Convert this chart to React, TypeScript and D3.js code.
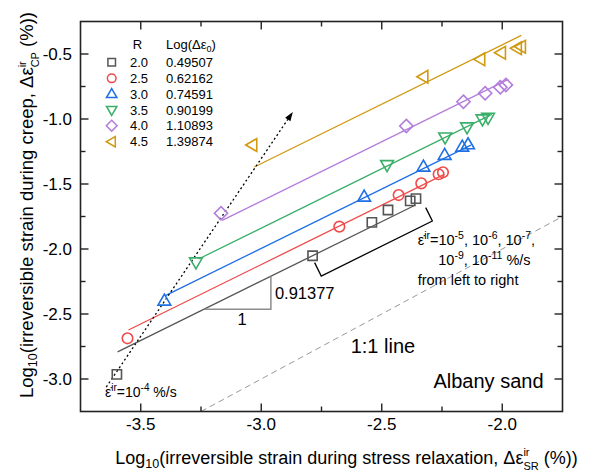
import React from "react";
import * as d3 from "d3";

// ---------- data ----------
const seriesR = ["2.0", "2.5", "3.0", "3.5", "4.0", "4.5"];
const logDe0 = ["0.49507", "0.62162", "0.74591", "0.90199", "1.10893", "1.39874"];
const intercepts = [0.49507, 0.62162, 0.74591, 0.90199, 1.10893, 1.39874];
const fitSlope = 0.91377;
const colors = ["#555555", "#f04a4a", "#1f6fe6", "#3aaf6a", "#b27ddc", "#d09a10"];
const markerTypes = ["square", "circle", "triUp", "triDown", "diamond", "triLeft"];

const xsR20 = [-3.599, -2.787, -2.541, -2.474, -2.382, -2.358];
const ysR20 = [-2.964, -2.052, -1.795, -1.700, -1.630, -1.613];
const xsR25 = [-3.555, -2.676, -2.430, -2.336, -2.264, -2.246];
const ysR25 = [-2.687, -1.828, -1.585, -1.495, -1.425, -1.410];
const xsR30 = [-3.402, -2.573, -2.327, -2.239, -2.166, -2.142];
const ysR30 = [-2.398, -1.598, -1.367, -1.277, -1.213, -1.195];
const xsR35 = [-3.271, -2.478, -2.237, -2.146, -2.082, -2.059];
const ysR35 = [-2.102, -1.354, -1.141, -1.064, -1.002, -0.990];
const xsR40 = [-3.167, -2.398, -2.161, -2.071, -2.008, -1.985];
const ysR40 = [-1.725, -1.054, -0.867, -0.802, -0.756, -0.738];
const xsR45 = [-3.037, -2.327, -2.091, -2.005, -1.939, -1.922];
const ysR45 = [-1.200, -0.675, -0.541, -0.490, -0.456, -0.444];
const seriesX = [xsR20, xsR25, xsR30, xsR35, xsR40, xsR45];
const seriesY = [ysR20, ysR25, ysR30, ysR35, ysR40, ysR45];

const lineStart = [-3.596, -3.551, -3.398, -3.26, -3.162, -3.029];
const lineEnd = [-2.36, -2.241, -2.13, -2.043, -1.975, -1.921];

const xMajor = [-3.5, -3.0, -2.5, -2.0];
const xMinor = [-3.25, -2.75, -2.25];
const yMajor = [-0.5, -1.0, -1.5, -2.0, -2.5, -3.0];
const yMinor = [-0.75, -1.25, -1.75, -2.25, -2.75];

// annotation anchors (data units)
const arrowFrom = [-3.643, -3.062];
const arrowTo = [-2.869, -0.946];
const bracketA = [-2.29, -1.785];
const bracketB = [-2.751, -2.208];
const triX = [-3.238, -2.96];
const oneToOne = [-3.25, -1.75];

const W = 589, H = 473;
const x = d3.scaleLinear().domain([-3.75, -1.75]).range([80.5, 562.5]);
const y = d3.scaleLinear().domain([-3.25, -0.25]).range([411.5, 21.5]);

const FONT = "Liberation Sans, Arial, Helvetica, sans-serif";

function markerPath(type: string, s: number): string {
  const p = d3.path();
  if (type === "square") {
    p.rect(-s * 0.42, -s * 0.42, s * 0.84, s * 0.84);
  } else if (type === "circle") {
    p.arc(0, 0, s * 0.48, 0, Math.PI * 2);
  } else if (type === "triUp") {
    p.moveTo(0, -s * 0.6); p.lineTo(s * 0.58, s * 0.4); p.lineTo(-s * 0.58, s * 0.4); p.closePath();
  } else if (type === "triDown") {
    p.moveTo(0, s * 0.6); p.lineTo(s * 0.58, -s * 0.4); p.lineTo(-s * 0.58, -s * 0.4); p.closePath();
  } else if (type === "diamond") {
    p.moveTo(0, -s * 0.6); p.lineTo(s * 0.6, 0); p.lineTo(0, s * 0.6); p.lineTo(-s * 0.6, 0); p.closePath();
  } else {
    p.moveTo(-s * 0.6, 0); p.lineTo(s * 0.4, -s * 0.58); p.lineTo(s * 0.4, s * 0.58); p.closePath();
  }
  return p.toString();
}

export default function App() {
  const fit = (v: number, i: number) => fitSlope * v + intercepts[i];
  const lineGen = d3.line<number[]>().x((d) => x(d[0])).y((d) => y(d[1]));

  // bracket geometry
  const A = [x(bracketA[0]), y(bracketA[1])];
  const B = [x(bracketB[0]), y(bracketB[1])];
  const dx = A[0] - B[0], dy = A[1] - B[1];
  const len = Math.hypot(dx, dy);
  const n = [dy / len, -dx / len];
  const nn = n[1] < 0 ? n : [-n[0], -n[1]];
  const arm = 15;

  // arrow geometry
  const ax0 = x(arrowFrom[0]), ay0 = y(arrowFrom[1]);
  const ax1 = x(arrowTo[0]), ay1 = y(arrowTo[1]);
  const ang = Math.atan2(ay1 - ay0, ax1 - ax0);
  const headL = 9, headW = 3.2;
  const hx = ax1 - headL * Math.cos(ang), hy = ay1 - headL * Math.sin(ang);
  const head = `M${ax1},${ay1}L${hx + headW * Math.sin(ang)},${hy - headW * Math.cos(ang)}L${hx - headW * Math.sin(ang)},${hy + headW * Math.cos(ang)}Z`;

  const triY0 = fit(triX[0], 0), triY1 = fit(triX[1], 0);

  const left = x(-3.75), right = x(-1.75), top = y(-0.25), bottom = y(-3.25);
  const legendRowY = [62.3, 78.3, 94, 110, 125.7, 141.7];

  return (
    <svg width={W} height={H} style={{ position: "absolute", left: 0, top: 0, background: "#fff" }} fontFamily={FONT}>
      <rect width={W} height={H} fill="#fff" />
      {/* 1:1 line */}
      <line x1={x(oneToOne[0])} y1={y(oneToOne[0])} x2={x(oneToOne[1])} y2={y(oneToOne[1])} stroke="#999" strokeWidth={1} strokeDasharray="6,4" />
      {/* fit lines */}
      {intercepts.map((b, i) => (
        <path key={"l" + i} d={lineGen([[lineStart[i], fit(lineStart[i], i)], [lineEnd[i], fit(lineEnd[i], i)]]) || ""} stroke={colors[i]} strokeWidth={1.3} fill="none" />
      ))}
      {/* slope triangle */}
      <path d={`M${x(triX[0])},${y(triY0)}L${x(triX[1])},${y(triY0)}L${x(triX[1])},${y(triY1)}`} fill="none" stroke="#8c8c8c" strokeWidth={1.5} />
      <text x={242} y={325} fontSize={16.5} textAnchor="middle">1</text>
      <text x={x(triX[1]) + 4} y={299} fontSize={16.5}>0.91377</text>
      {/* bracket */}
      <path d={`M${A[0] + nn[0] * arm},${A[1] + nn[1] * arm}L${A[0]},${A[1]}L${B[0]},${B[1]}L${B[0] + nn[0] * arm},${B[1] + nn[1] * arm}`} fill="none" stroke="#000" strokeWidth={1.3} />
      {/* dotted arrow */}
      <line x1={ax0} y1={ay0} x2={hx} y2={hy} stroke="#000" strokeWidth={1.3} strokeDasharray="2,2.6" />
      <path d={head} fill="#000" />
      {/* markers */}
      {seriesX.map((xs, i) =>
        xs.map((v, j) => (
          <path key={"m" + i + "-" + j} d={markerPath(markerTypes[i], 11)} transform={`translate(${x(v)},${y(seriesY[i][j])})`} fill="none" stroke={colors[i]} strokeWidth={1.6} />
        ))
      )}
      {/* frame */}
      <rect x={left} y={top} width={right - left} height={bottom - top} fill="none" stroke="#222" strokeWidth={1.6} />
      {/* ticks */}
      {xMajor.map((v) => (
        <g key={"xt" + v}>
          <line x1={x(v)} x2={x(v)} y1={bottom} y2={bottom - 8} stroke="#222" strokeWidth={1.4} />
          <line x1={x(v)} x2={x(v)} y1={top} y2={top + 8} stroke="#222" strokeWidth={1.4} />
          <text x={x(v)} y={430} fontSize={17} textAnchor="middle">{d3.format(".1f")(v).replace("−", "-")}</text>
        </g>
      ))}
      {xMinor.map((v) => (
        <g key={"xm" + v}>
          <line x1={x(v)} x2={x(v)} y1={bottom} y2={bottom - 5} stroke="#222" strokeWidth={1.4} />
          <line x1={x(v)} x2={x(v)} y1={top} y2={top + 5} stroke="#222" strokeWidth={1.4} />
        </g>
      ))}
      {yMajor.map((v) => (
        <g key={"yt" + v}>
          <line x1={left} x2={left + 8} y1={y(v)} y2={y(v)} stroke="#222" strokeWidth={1.4} />
          <line x1={right} x2={right - 8} y1={y(v)} y2={y(v)} stroke="#222" strokeWidth={1.4} />
          <text x={72} y={y(v)} dy="0.36em" fontSize={17} textAnchor="end">{d3.format(".1f")(v).replace("−", "-")}</text>
        </g>
      ))}
      {yMinor.map((v) => (
        <g key={"ym" + v}>
          <line x1={left} x2={left + 5} y1={y(v)} y2={y(v)} stroke="#222" strokeWidth={1.4} />
          <line x1={right} x2={right - 5} y1={y(v)} y2={y(v)} stroke="#222" strokeWidth={1.4} />
        </g>
      ))}
      {/* legend */}
      <text x={137.5} y={48.5} fontSize={13} textAnchor="middle">R</text>
      <text x={166} y={48.5} fontSize={13}>Log(Δε<tspan fontSize={9} dy={3}>0</tspan><tspan dy={-3}>)</tspan></text>
      {seriesR.map((r, i) => (
        <g key={"lg" + i}>
          <path d={markerPath(markerTypes[i], 9)} transform={`translate(111.7,${legendRowY[i]})`} fill="none" stroke={colors[i]} strokeWidth={1.5} />
          <text x={130} y={legendRowY[i]} dy="0.36em" fontSize={13}>{r}</text>
          <text x={166} y={legendRowY[i]} dy="0.36em" fontSize={13}>{logDe0[i]}</text>
        </g>
      ))}
      {/* annotations */}
      <text x={105} y={396.5} fontSize={14}>ε̇<tspan fontSize={10} dy={-6}>ir</tspan><tspan dy={6}>=10</tspan><tspan fontSize={10} dy={-6}>-4</tspan><tspan dy={6}> %/s</tspan></text>
      <text x={417.7} y={245} fontSize={14.5}>ε̇<tspan fontSize={10.5} dy={-6}>ir</tspan><tspan dy={6}>=10</tspan><tspan fontSize={10.5} dy={-6}>-5</tspan><tspan dy={6}>, 10</tspan><tspan fontSize={10.5} dy={-6}>-6</tspan><tspan dy={6}>, 10</tspan><tspan fontSize={10.5} dy={-6}>-7</tspan><tspan dy={6}>,</tspan></text>
      <text x={438.3} y={264.5} fontSize={14.5}>10<tspan fontSize={10.5} dy={-6}>-9</tspan><tspan dy={6}>, 10</tspan><tspan fontSize={10.5} dy={-6}>-11</tspan><tspan dy={6}> %/s</tspan></text>
      <text x={417.7} y={284.5} fontSize={14.5}>from left to right</text>
      <text x={350.7} y={353} fontSize={20}>1:1 line</text>
      <text x={543.5} y={387.5} fontSize={20} textAnchor="end">Albany sand</text>
      {/* axis titles */}
      <text x={346.5} y={463.5} fontSize={18} textAnchor="middle">
        Log<tspan fontSize={12.5} dy={4}>10</tspan><tspan dy={-4}>(irreversible strain during stress relaxation, Δε</tspan>
        <tspan fontSize={11} dy={-7.5}>ir</tspan><tspan fontSize={11} dx={-6.1} dy={13.5}>SR</tspan><tspan dy={-6}> (%))</tspan>
      </text>
      <text transform={`translate(33,205) rotate(-90)`} fontSize={18.5} textAnchor="middle">
        Log<tspan fontSize={12.5} dy={4}>10</tspan><tspan dy={-4}>(irreversible strain during creep, Δε</tspan>
        <tspan fontSize={11} dy={-7.5}>ir</tspan><tspan fontSize={11} dx={-6.1} dy={13.5}>CP</tspan><tspan dy={-6}> (%))</tspan>
      </text>
    </svg>
  );
}
